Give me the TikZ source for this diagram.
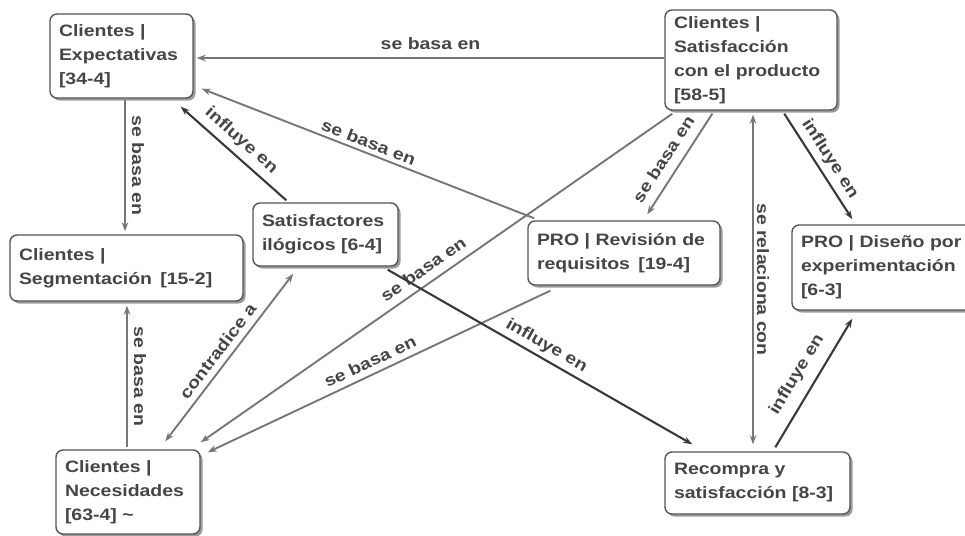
\documentclass[tikz,border=0pt]{standalone}
\usepackage{fontspec}
\newfontfamily\mapfont{Liberation Sans}[FakeStretch=1.18]
\usetikzlibrary{arrows.meta,shadows}
\definecolor{txt}{HTML}{454545}
\definecolor{boxline}{HTML}{555555}
\definecolor{lightlink}{HTML}{767676}
\definecolor{darklink}{HTML}{383838}

\begin{document}
\begin{tikzpicture}[x=1pt,y=-1pt,
  >={Stealth[length=9pt,width=6.5pt]},
  concept/.style={draw=boxline, line width=1.4pt, rounded corners=7pt, fill=white,
    drop shadow={shadow xshift=2.5pt,shadow yshift=-2.5pt,fill=black!60,opacity=.65},
    font=\mapfont\bfseries\fontsize{16.5}{24}\selectfont, text=txt,
    align=left, inner xsep=9pt, inner ysep=4pt},
  link/.style={draw=lightlink, line width=1.9pt, ->},
  dlink/.style={draw=darklink, line width=2.1pt, ->},
  lab/.style={font=\mapfont\bfseries\fontsize{16.5}{20}\selectfont, text=txt,
    inner sep=3pt, sloped},
  vlab/.style={lab, sloped=false, rotate=-90, anchor=south}
]
\useasboundingbox (0,0) rectangle (965,535);
\clip (0,0) rectangle (965,535);

% concepts
\node[concept, text width=125pt, minimum height=84pt] (exp) at (121.5,56)
  {Clientes |\\Expectativas\\{[}34-4]};
\node[concept, text width=154pt, minimum height=100pt] (sat) at (751,60)
  {Clientes |\\Satisfacción\\con el producto\\{[}58-5]};
\node[concept, text width=215pt, minimum height=66pt] (seg) at (126.5,268)
  {Clientes |\\Segmentación\,\ [15-2]};
\node[concept, text width=127pt, minimum height=63pt] (ilo) at (325.5,234.5)
  {Satisfactores\\ilógicos [6-4]};
\node[concept, text width=174pt, minimum height=64pt] (rev) at (624,253)
  {PRO | Revisión de\\requisitos\,\ [19-4]};
\node[concept, text width=165pt, minimum height=85pt] (dis) at (883.5,267.5)
  {PRO | Diseño por\\experimentación\\{[}6-3]};
\node[concept, text width=126pt, minimum height=84pt] (nec) at (128,492)
  {Clientes |\\Necesidades\\{[}63-4] \textasciitilde};
\node[concept, text width=167pt, minimum height=62pt] (rec) at (757.5,483)
  {Recompra y\\satisfacción [8-3]};

% links
\draw[link] ([yshift=2pt]sat.west) -- ([yshift=2pt,xshift=3pt]sat.west -| exp.east)
  node[lab,midway,above=4pt]{se basa en};
\draw[link] ([xshift=7pt,yshift=2pt]rev.north west) -- ([xshift=8pt,yshift=10pt]exp.south east)
  node[lab,pos=0.51,above=1pt]{se basa en};
\draw[dlink] ([xshift=34pt,yshift=2pt]ilo.north west) -- ([xshift=-13pt,yshift=-8pt]exp.south east)
  node[lab,pos=0.52,above=3pt]{influye en};
\draw[link] ([xshift=3.5pt,yshift=-1pt]exp.south) -- ([xshift=3.5pt,yshift=3pt]exp.south |- seg.north)
  node[vlab,midway,inner ysep=6pt]{se basa en};
\draw[link] ([xshift=-1pt,yshift=2pt]nec.north) -- ([xshift=-1pt,yshift=-4pt]nec.north |- seg.south)
  node[vlab,midway,inner ysep=6pt]{se basa en};
\draw[link,<->] ([xshift=110pt,yshift=8pt]nec.north west) -- ([xshift=41pt,yshift=-7pt]ilo.south west)
  node[lab,pos=0.49,above=3pt]{contradice a};
\draw[link] ([xshift=8pt,yshift=-3pt]sat.south west) -- ([yshift=7pt]nec.north east)
  node[lab,pos=0.51,above=5pt]{se basa en};
\draw[link] ([xshift=23pt,yshift=-5pt]rev.south west) -- ([xshift=7pt,yshift=-3pt]nec.north east)
  node[lab,pos=0.51,above=3pt]{se basa en};
\draw[dlink] ([xshift=-11pt,yshift=-3pt]ilo.south east) -- ([xshift=28pt,yshift=7pt]rec.north west)
  node[lab,pos=0.5,above=1pt]{influye en};
\draw[link] ([xshift=48pt,yshift=-3pt]sat.south west) -- ([xshift=120pt,yshift=6pt]rev.north west)
  node[lab,pos=0.54,above=6.5pt]{se basa en};
\draw[link,<->] ([xshift=2pt,yshift=-4pt]sat.south) -- ([xshift=2pt,yshift=7pt]sat.south |- rec.north)
  node[vlab,midway]{se relaciona con};
\draw[dlink] ([xshift=120pt,yshift=-3pt]sat.south west) -- ([xshift=61pt,yshift=5pt]dis.north west)
  node[lab,pos=0.5,above=2pt]{influye en};
\draw[dlink] ([xshift=111pt,yshift=4pt]rec.north west) -- ([xshift=61pt,yshift=-8pt]dis.south west)
  node[lab,pos=0.49,above=7pt]{influye en};
\end{tikzpicture}
\end{document}
